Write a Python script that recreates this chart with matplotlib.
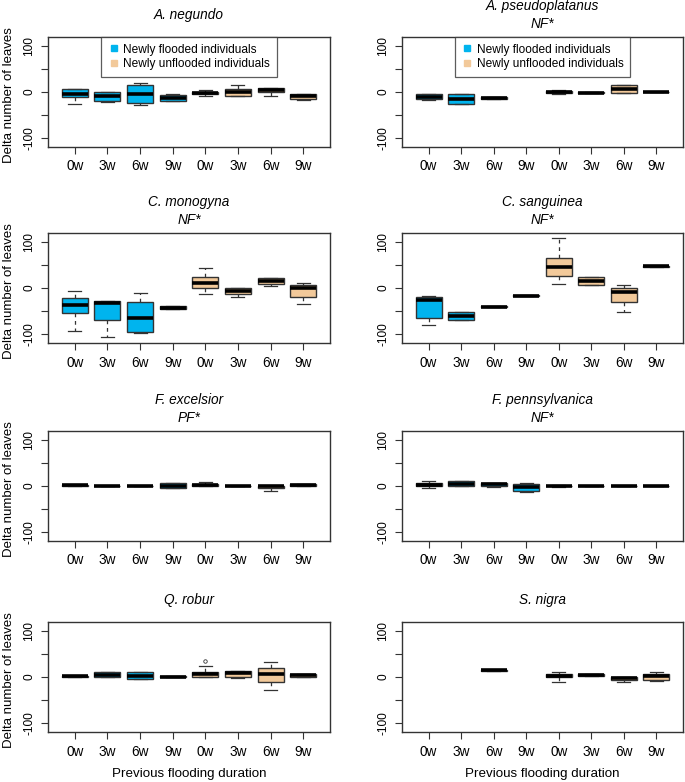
import numpy as np
import matplotlib
matplotlib.use("Agg")
import matplotlib.pyplot as plt
from matplotlib.lines import Line2D

plt.rcParams['font.family'] = ['Liberation Sans', 'DejaVu Sans']
plt.rcParams['axes.unicode_minus'] = False

species = ["A. negundo", "A. pseudoplatanus\nNF*", "C. monogyna\nNF*", "C. sanguinea\nNF*",
           "F. excelsior\nPF*", "F. pennsylvanica\nNF*", "Q. robur", "S. nigra"]
durations = ["0w", "3w", "6w", "9w", "0w", "3w", "6w", "9w"]
groups = ["Newly flooded individuals"] * 4 + ["Newly unflooded individuals"] * 4
nan = np.nan

med = [
    [-4, -9, -4, -14, -2, -1, 5, -9],
    [-10, -15, -12, nan, 0, -2, 7, 0],
    [-36, -32, -66, -43, 11, -6, 16, -1],
    [-26, -61, -41, -17, 45, 16, -9, 47],
    [2, 0, 0, -1, 2, 0, -1, 2],
    [3, 5, 4, -2, 0, 0, 0, 0],
    [2, 5, 3, 0, 7, 8, 7, 4],
    [nan, nan, 15, nan, 3, 5, -3, 2],
]
q1 = [
    [-10, -20, -25, -20, -5, -9, 0, -15],
    [-15, -26, -15, nan, -2, -3, -3, -1],
    [-54, -70, -97, -45, 0, -14, 9, -19],
    [-66, -70, -42, -18, 27, 7, -31, 46],
    [1, -1, -1, -4, 0, -1, -4, 0],
    [-1, 0, 1, -10, -1, -1, -1, -1],
    [-1, -1, -4, -1, 1, 1, -11, 0],
    [nan, nan, 14, nan, -1, 3, -7, -6],
]
q3 = [
    [6, 0, 15, -7, 1, 6, 8, -4],
    [-5, -5, -10, nan, 2, -1, 16, 1],
    [-21, -29, -31, -40, 23, 0, 21, 7],
    [-20, -53, -40, -16, 65, 24, -1, 48],
    [3, 1, 1, 6, 4, 1, 1, 5],
    [6, 10, 6, 4, 1, 1, 1, 1],
    [3, 10, 10, 2, 12, 14, 20, 7],
    [nan, nan, 16, nan, 7, 7, 1, 7],
]
whislo = [
    [-26, -22, -28, -20, -9, -9, -8, -18],
    [-18, -26, -15, nan, -5, -3, -3, -1],
    [-93, -106, -98, -45, -13, -19, 5, -34],
    [-81, -70, -42, -18, 9, 7, -53, 46],
    [1, -1, -1, -4, 0, -1, -10, 0],
    [-4, 0, -3, -14, -2, -1, -1, -1],
    [-1, -1, -4, -1, 1, -3, -28, 0],
    [nan, nan, 14, nan, -10, 3, -10, -8],
]
whishi = [
    [7, 0, 19, -4, 5, 15, 8, -4],
    [-4, -5, -10, nan, 5, -1, 16, 1],
    [-7, -29, -11, -40, 43, 0, 21, 11],
    [-17, -53, -40, -16, 109, 24, 7, 48],
    [3, 1, 1, 6, 9, 1, 1, 5],
    [12, 11, 6, 6, 2, 1, 1, 1],
    [3, 10, 10, 2, 24, 14, 33, 7],
    [nan, nan, 16, nan, 10, 7, 1, 12],
]
outliers = [
    [[], [], [], [], [], [], [], []],
    [[], [], [], [], [], [], [], []],
    [[], [], [], [], [], [], [], []],
    [[], [], [], [], [], [], [], []],
    [[], [], [], [], [], [], [], []],
    [[], [], [], [], [], [], [], []],
    [[], [], [], [], [36], [], [], []],
    [[], [], [], [], [], [], [], []],
]

col_flood = "#00B4EE"
col_unflood = "#F2C99A"
box_colors = [col_flood if g.startswith("Newly flooded") else col_unflood for g in groups]

fig = plt.figure(figsize=(6.85, 7.82), dpi=100)
W, H = 685.0, 782.0
lefts = [48, 402]
widths = [282, 281]
tops = [37, 233, 431, 622]
ah = 110

for i, name in enumerate(species):
    r, c = divmod(i, 2)
    ax = fig.add_axes([lefts[c] / W, 1 - (tops[r] + ah) / H, widths[c] / W, ah / H])
    stats, pos, cols = [], [], []
    for j in range(8):
        if np.isnan(med[i][j]):
            continue
        stats.append(dict(med=med[i][j], q1=q1[i][j], q3=q3[i][j],
                          whislo=whislo[i][j], whishi=whishi[i][j],
                          fliers=outliers[i][j]))
        pos.append(j + 1)
        cols.append(box_colors[j])
    bp = ax.bxp(stats, positions=pos, widths=0.8, patch_artist=True, capwidths=0.4,
                boxprops=dict(edgecolor="#333333", linewidth=1.0),
                medianprops=dict(color="black", linewidth=2.6, solid_capstyle="butt"),
                whiskerprops=dict(color="#333333", linewidth=0.9, linestyle=(0, (3, 3))),
                capprops=dict(color="#333333", linewidth=0.9),
                flierprops=dict(marker="o", markersize=2.5, markerfacecolor="none",
                                markeredgecolor="#333333", markeredgewidth=0.6))
    for patch, col in zip(bp["boxes"], cols):
        patch.set_facecolor(col)
    ax.set_xlim(0.18, 8.82)
    ax.set_ylim(-120, 120)
    ax.set_xticks(range(1, 9))
    ax.set_xticklabels(durations, fontsize=9.8)
    ax.set_yticks([-100, -50, 0, 50, 100])
    ax.set_yticklabels(["-100", "", "0", "", "100"], fontsize=8.6, rotation=90, va="center")
    ax.tick_params(axis="both", length=5, width=0.8, color="#333333")
    ax.tick_params(axis="x", pad=4)
    ax.tick_params(axis="y", pad=4)
    for s in ax.spines.values():
        s.set_linewidth(1.0)
        s.set_color("#333333")
    ax.text(0.5, 1 + 22 / ah, name, transform=ax.transAxes, ha="center", va="center",
            fontsize=9.8, fontstyle="italic", linespacing=1.35)
    if c == 0:
        ax.set_ylabel("Delta number of leaves", fontsize=9.5)
        ax.yaxis.set_label_coords(15 / W, 1 - (tops[r] + ah / 2 + 3) / H,
                                  transform=fig.transFigure)
    if r == 3:
        ax.set_xlabel("Previous flooding duration", fontsize=9.6, labelpad=7)
    if r == 0:
        handles = [Line2D([], [], marker="s", linestyle="none", markersize=5,
                          markerfacecolor=col_flood, markeredgecolor=col_flood),
                   Line2D([], [], marker="s", linestyle="none", markersize=5,
                          markerfacecolor=col_unflood, markeredgecolor=col_unflood)]
        leg = ax.legend(handles, ["Newly flooded individuals", "Newly unflooded individuals"],
                        loc="upper center", fontsize=8.6, frameon=True, fancybox=False,
                        borderaxespad=0, handletextpad=0.3, handlelength=1.0,
                        borderpad=0.55, labelspacing=0.2)
        leg.get_frame().set_edgecolor("#333333")
        leg.get_frame().set_linewidth(0.9)

fig.savefig("out.png", dpi=100)
